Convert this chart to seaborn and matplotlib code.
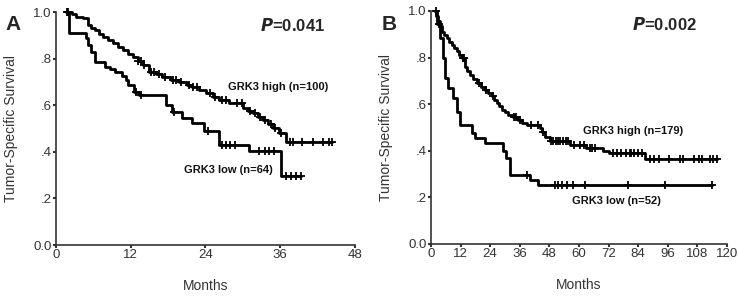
import numpy as np
import pandas as pd
import matplotlib
matplotlib.use('Agg')
import matplotlib.pyplot as plt
import seaborn as sns

# step curves (time in months, survival)
a_high_t = [1.6, 2.5, 3.2, 4.3, 5.1, 5.6, 6.2, 6.9, 7.5, 8.3, 9.1, 9.9, 10.7, 11.5, 12.3, 13.1, 13.9,
            15.0, 16.0, 17.1, 18.5, 19.8, 21.0, 21.9, 23.0, 24.1, 25.2, 26.2, 27.8, 30.0, 30.8, 31.6,
            32.4, 33.2, 34.0, 34.8, 35.8, 36.9, 44.4]
a_high_s = [1.0, 0.99, 0.98, 0.973, 0.944, 0.934, 0.923, 0.908, 0.894, 0.88, 0.866, 0.851, 0.837, 0.822,
            0.808, 0.79, 0.773, 0.744, 0.733, 0.723, 0.71, 0.698, 0.689, 0.68, 0.665, 0.651, 0.636, 0.622,
            0.608, 0.587, 0.576, 0.565, 0.551, 0.537, 0.519, 0.501, 0.48, 0.444, 0.444]
a_high_cens = [1.8, 2.0, 13.2, 13.6, 14.2, 15.3, 15.8, 16.5, 17.5, 18.8, 19.3, 20.0, 21.3, 22.0, 22.6,
               24.8, 25.6, 26.7, 27.3, 29.0, 29.8, 31.2, 32.0, 32.8, 33.6, 34.5, 35.2, 36.2, 37.5, 38.0,
               39.5, 41.2, 42.8, 43.9, 44.4]

a_low_t = [1.9, 2.1, 4.8, 5.2, 5.6, 6.2, 7.8, 8.6, 9.4, 10.6, 11.2, 11.6, 12.6, 13.4, 17.7, 18.7, 20.3,
           21.9, 23.8, 26.1, 31.0, 36.1, 39.3]
a_low_s = [1.0, 0.909, 0.887, 0.86, 0.83, 0.787, 0.765, 0.755, 0.744, 0.726, 0.708, 0.687, 0.658, 0.644,
           0.601, 0.573, 0.546, 0.523, 0.49, 0.429, 0.404, 0.298, 0.298]
a_low_cens = [12.8, 13.6, 18.9, 24.4, 26.6, 27.3, 28.0, 28.8, 32.6, 33.5, 34.2, 35.0, 37.0, 37.8, 38.6, 39.3]

b_high_t = [1.6, 2.2, 3.0, 3.6, 4.3, 5.3, 6.4, 7.4, 8.4, 9.4, 10.4, 11.4, 12.4, 13.8, 14.8, 15.8, 17.1,
            18.5, 20.2, 21.9, 23.2, 24.6, 25.6, 26.6, 27.6, 28.6, 29.9, 31.3, 33.3, 35.4, 37.1, 38.8, 44.2,
            45.2, 46.2, 48.2, 56.3, 63.0, 69.8, 72.0, 86.7, 115.8]
b_high_s = [1.0, 0.98, 0.957, 0.935, 0.911, 0.897, 0.883, 0.868, 0.854, 0.84, 0.826, 0.811, 0.797, 0.761,
            0.743, 0.725, 0.708, 0.69, 0.675, 0.661, 0.647, 0.633, 0.618, 0.604, 0.59, 0.575, 0.565, 0.554,
            0.543, 0.532, 0.521, 0.511, 0.497, 0.479, 0.461, 0.44, 0.425, 0.411, 0.397, 0.39, 0.365, 0.365]
b_high_cens = [2.0, 12.8, 13.3, 19.5, 22.5, 25.0, 33.8, 34.6, 36.0, 40.5, 43.5, 45.5, 48.8, 49.6, 50.6,
               51.5, 52.5, 53.5, 54.6, 55.4, 58.0, 60.5, 62.0, 64.5, 65.3, 66.5, 74.0, 75.5, 77.0, 79.0,
               80.5, 81.3, 82.5, 84.0, 85.5, 89.0, 90.5, 92.5, 96.5, 101.0, 102.0, 106.5, 108.5, 110.0,
               113.0, 114.5, 115.8]

b_low_t = [1.6, 2.5, 3.7, 5.0, 5.7, 7.0, 9.0, 10.4, 11.8, 16.5, 17.8, 21.9, 29.3, 30.6, 32.0, 40.1, 43.5, 114.0]
b_low_s = [1.0, 0.942, 0.883, 0.797, 0.711, 0.668, 0.626, 0.568, 0.511, 0.475, 0.454, 0.432, 0.4, 0.37,
           0.296, 0.276, 0.254, 0.254]
b_low_cens = [3.2, 39.0, 50.3, 51.6, 53.0, 55.0, 57.7, 62.4, 80.0, 95.0, 114.0]

panels = [
    dict(letter='A', p='0.041', xmax=48, xticks=[0, 12, 24, 36, 48],
         curves=[(a_high_t, a_high_s, a_high_cens), (a_low_t, a_low_s, a_low_cens)],
         labels=[('GRK3 high (n=100)', 27.6, 0.678), ('GRK3 low (n=64)', 20.5, 0.322)],
         ptxt=(32.7, 0.944), rect=[0.0759, 0.172, 0.405, 0.787], letter_x=0.018),
    dict(letter='B', p='0.002', xmax=120, xticks=list(range(0, 121, 12)),
         curves=[(b_high_t, b_high_s, b_high_cens), (b_low_t, b_low_s, b_low_cens)],
         labels=[('GRK3 high (n=179)', 61.6, 0.485), ('GRK3 low (n=52)', 57.2, 0.185)],
         ptxt=(81.5, 0.94), rect=[0.584, 0.176, 0.401, 0.787], letter_x=0.527),
]

sns.set_style('white')
plt.rcParams['font.family'] = ['Liberation Sans', 'DejaVu Sans']

fig = plt.figure(figsize=(7.38, 2.96), dpi=100)

for pan in panels:
    ax = fig.add_axes(pan['rect'])
    for t, s, cens in pan['curves']:
        df = pd.DataFrame({'t': t, 's': s})
        sns.lineplot(data=df, x='t', y='s', drawstyle='steps-post', estimator=None, sort=False,
                     color='black', linewidth=2.0, ax=ax, clip_on=False)
        # survival at censoring times from the step function
        idx = np.searchsorted(np.array(t), np.array(cens), side='right') - 1
        cdf = pd.DataFrame({'t': cens, 's': np.array(s)[idx]})
        sns.scatterplot(data=cdf, x='t', y='s', marker='+', s=30, color='black', linewidth=1.3,
                        ax=ax, clip_on=False, zorder=3)

    ax.set_xlim(0, pan['xmax'])
    ax.set_ylim(0, 1.0)
    ax.set_xticks(pan['xticks'])
    ax.set_yticks([0, 0.2, 0.4, 0.6, 0.8, 1.0])
    ax.set_yticklabels(['0.0', '.2', '.4', '.6', '.8', '1.0'])
    ax.tick_params(axis='both', length=2, width=1.5, pad=1, labelsize=9.5, colors='#333333',
                   bottom=True, left=True)
    for side in ['top', 'right']:
        ax.spines[side].set_visible(False)
    for side in ['left', 'bottom']:
        ax.spines[side].set_color('#333333')
        ax.spines[side].set_linewidth(1.2)

    ax.set_xlabel('Months', fontsize=10, color='#333333')
    ax.set_ylabel('Tumor-Specific Survival', fontsize=10, color='#333333')
    ax.xaxis.set_label_coords(0.5, -0.145)
    ax.yaxis.set_label_coords(-0.127, 0.5)

    for txt, x, y in pan['labels']:
        ax.text(x, y, txt, fontsize=8, fontweight='bold', ha='left', va='center', color='#111111')
    ax.text(pan['ptxt'][0], pan['ptxt'][1], r'$\bfit{P}$=' + pan['p'], fontsize=12,
            fontweight='bold', ha='left', va='center')
    fig.text(pan['letter_x'], 1 - 25 / 296, pan['letter'], fontsize=15, fontweight='bold',
             ha='center', va='center')

fig.savefig('out.png', dpi=100)
